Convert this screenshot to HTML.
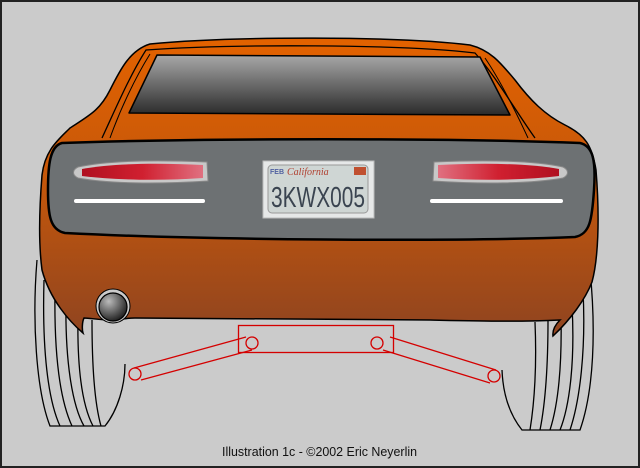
<!DOCTYPE html>
<html><head><style>
html,body{margin:0;padding:0;background:#cbcbcb;}
svg{display:block}
</style></head><body>
<svg width="640" height="468" viewBox="0 0 640 468" xmlns="http://www.w3.org/2000/svg">
<defs>
<linearGradient id="body" x1="0" y1="0" x2="0" y2="1">
<stop offset="0" stop-color="#e36200"/><stop offset="0.45" stop-color="#c7580a"/><stop offset="1" stop-color="#8f4420"/>
</linearGradient>
<linearGradient id="win" x1="0" y1="0" x2="0" y2="1">
<stop offset="0" stop-color="#a8a8a8"/><stop offset="1" stop-color="#2a2a2a"/>
</linearGradient>
<radialGradient id="ex" cx="0.35" cy="0.3" r="0.8">
<stop offset="0" stop-color="#bbb"/><stop offset="1" stop-color="#111"/>
</radialGradient>
<linearGradient id="tl" x1="0" y1="0" x2="1" y2="0">
<stop offset="0" stop-color="#b01020"/><stop offset="0.5" stop-color="#d02030"/><stop offset="1" stop-color="#e07080"/>
</linearGradient>
<linearGradient id="tr" x1="0" y1="0" x2="1" y2="0">
<stop offset="0" stop-color="#e07080"/><stop offset="0.5" stop-color="#d02030"/><stop offset="1" stop-color="#b01020"/>
</linearGradient>
</defs>
<rect x="1" y="1" width="638" height="466" fill="#cbcbcb" stroke="#222" stroke-width="2"/>
<!-- tires -->
<g fill="none" stroke="#000" stroke-width="1.3">
<path d="M37,260 C32,320 36,390 50,426 L105,426 C118,410 125,385 125,364"/>
<path d="M44,280 C42,350 48,400 60,426"/>
<path d="M55,290 C54,355 60,400 72,426"/>
<path d="M66,300 C65,360 72,405 84,426"/>
<path d="M78,315 C77,370 82,405 93,426"/>
<path d="M92,320 C92,370 95,405 101,426"/>
<path d="M590,270 C596,330 594,390 580,430 L522,430 C510,415 503,395 502,370"/>
<path d="M583,290 C586,350 580,400 570,430"/>
<path d="M572,305 C575,360 570,405 560,430"/>
<path d="M561,315 C562,365 558,405 550,430"/>
<path d="M548,320 C548,370 545,405 540,430"/>
<path d="M535,322 C537,370 534,405 530,430"/>
</g>
<!-- body -->
<path d="M150,44 C230,36 400,36 470,45 C490,50 500,62 515,80 C530,100 545,115 565,125 C585,135 592,145 596,170 C600,220 598,260 592,282 C585,300 570,320 553,336 C552,328 558,322 560,320 C520,322 480,321 430,320 L135,318 C125,318 118,320 110,320 C100,320 90,318 84,318 C82,322 82,330 83,333 C70,322 50,300 42,270 C38,240 40,200 42,175 C45,150 58,140 70,128 C90,115 100,110 110,90 C120,70 130,50 150,44 Z" fill="url(#body)" stroke="#000" stroke-width="1.5"/>
<path d="M102,138 C115,110 130,75 146,50 C230,44 400,44 475,53 C495,75 515,110 535,138" fill="none" stroke="#000" stroke-width="1.3"/>
<path d="M110,138 C120,110 135,78 150,54" fill="none" stroke="#000" stroke-width="1"/>
<path d="M528,138 C515,110 500,80 485,58" fill="none" stroke="#000" stroke-width="1"/>
<!-- window -->
<path d="M129,113 L157,55 L480,57 L510,115 Z" fill="url(#win)" stroke="#000" stroke-width="1.5" stroke-linejoin="round"/>
<!-- exhaust -->
<circle cx="113" cy="306" r="17" fill="#cbcbcb" stroke="#000" stroke-width="1"/>
<circle cx="113" cy="307" r="14" fill="url(#ex)" stroke="#000" stroke-width="1.2"/>
<!-- grey panel -->
<path d="M62,143 C200,138 450,138 580,143 C593,146 596,160 594,190 C592,220 590,234 575,237 C450,242 200,240 65,233 C50,230 48,215 48,190 C48,165 50,146 62,143 Z" fill="#6d7173" stroke="#000" stroke-width="2.5"/>
<!-- taillights -->
<path d="M78,167 C110,160 160,160 207,162 L208,181 C160,184 110,184 78,178 C72,175 72,170 78,167 Z" fill="#c8c8c8" stroke="#888" stroke-width="1"/>
<path d="M82,169 C115,163 160,163 203,165 L203,178 C160,181 115,180 82,176 Z" fill="url(#tl)"/>
<path d="M563,167 C530,160 480,160 434,162 L433,181 C480,184 530,184 563,178 C569,175 569,170 563,167 Z" fill="#c8c8c8" stroke="#888" stroke-width="1"/>
<path d="M559,169 C526,163 480,163 438,165 L438,178 C480,181 526,180 559,176 Z" fill="url(#tr)"/>
<!-- white lines -->
<line x1="76" y1="201" x2="203" y2="201" stroke="#fff" stroke-width="4" stroke-linecap="round"/>
<line x1="432" y1="201" x2="561" y2="201" stroke="#fff" stroke-width="4" stroke-linecap="round"/>
<!-- plate -->
<rect x="263" y="161" width="111" height="57" fill="#e6e8e8" stroke="#bbb"/>
<rect x="268" y="165" width="100" height="48" rx="4" fill="#cfd6d4" stroke="#999"/>
<text x="270" y="174" font-family="Liberation Sans,sans-serif" font-size="7" font-weight="bold" fill="#5060a0">FEB</text>
<text x="287" y="175" font-family="Liberation Serif,serif" font-style="italic" font-size="10" fill="#b04030">California</text>
<rect x="354" y="167" width="12" height="8" fill="#c05030"/>
<text x="271" y="207" textLength="94" lengthAdjust="spacingAndGlyphs" font-family="Liberation Sans,sans-serif" font-size="29" fill="#3a4450">3KWX005</text>
<!-- suspension -->
<g fill="none" stroke="#d40000" stroke-width="1.3">
<rect x="238.5" y="325.5" width="155" height="27"/>
<line x1="134" y1="368" x2="246" y2="337"/>
<line x1="141" y1="380" x2="252" y2="350"/>
<line x1="390" y1="337" x2="496" y2="370"/>
<line x1="383" y1="350" x2="490" y2="383"/>
<circle cx="252" cy="343" r="6"/>
<circle cx="377" cy="343" r="6"/>
<circle cx="135" cy="374" r="6"/>
<circle cx="494" cy="376" r="6"/>
</g>
<text x="222" y="456" textLength="195" lengthAdjust="spacingAndGlyphs" font-family="Liberation Sans,sans-serif" font-size="13" fill="#111">Illustration 1c  - ©2002 Eric Neyerlin</text>
</svg>
</body></html>
